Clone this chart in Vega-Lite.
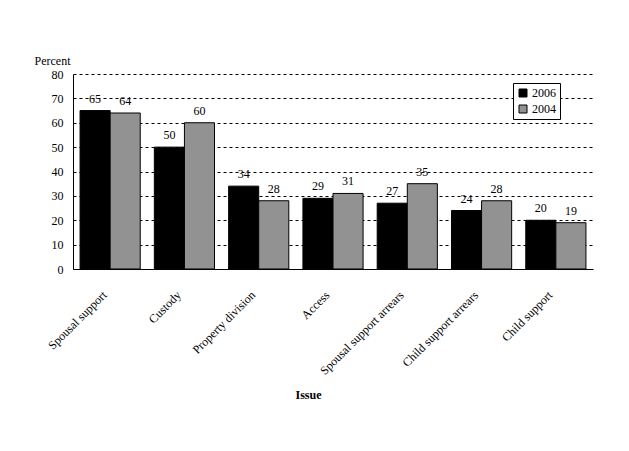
{
  "$schema": "https://vega.github.io/schema/vega-lite/v6.json",
  "width": 520,
  "height": 195,
  "autosize": {"type": "none"},
  "padding": {"left": 73, "top": 74, "right": 36, "bottom": 182},
  "background": "white",
  "config": {
    "font": "Liberation Serif",
    "view": {"stroke": null},
    "axis": {"labelFont": "Liberation Serif", "titleFont": "Liberation Serif", "labelColor": "black", "titleColor": "black"}
  },
  "data": {
    "values": [
      {"issue": "Spousal support", "year": "2006", "pct": 65},
      {"issue": "Spousal support", "year": "2004", "pct": 64},
      {"issue": "Custody", "year": "2006", "pct": 50},
      {"issue": "Custody", "year": "2004", "pct": 60},
      {"issue": "Property division", "year": "2006", "pct": 34},
      {"issue": "Property division", "year": "2004", "pct": 28},
      {"issue": "Access", "year": "2006", "pct": 29},
      {"issue": "Access", "year": "2004", "pct": 31},
      {"issue": "Spousal support arrears", "year": "2006", "pct": 27},
      {"issue": "Spousal support arrears", "year": "2004", "pct": 35},
      {"issue": "Child support arrears", "year": "2006", "pct": 24},
      {"issue": "Child support arrears", "year": "2004", "pct": 28},
      {"issue": "Child support", "year": "2006", "pct": 20},
      {"issue": "Child support", "year": "2004", "pct": 19}
    ]
  },
  "encoding": {
    "x": {
      "field": "issue",
      "type": "nominal",
      "sort": null,
      "scale": {"paddingInner": 0.19, "paddingOuter": 0.095},
      "axis": {
        "title": "Issue",
        "titleFontWeight": "bold",
        "titleFontSize": 12,
        "titleX": 235,
        "titleY": 129,
        "titleBaseline": "alphabetic",
        "labelAngle": -45,
        "labelFontSize": 12,
        "labelPadding": 20,
        "labelOffset": -9,
        "ticks": false,
        "domainColor": "black",
        "grid": false
      }
    },
    "xOffset": {"field": "year", "type": "nominal", "sort": ["2006", "2004"]},
    "y": {
      "field": "pct",
      "type": "quantitative",
      "scale": {"domain": [0, 80]},
      "axis": {
        "title": "Percent",
        "titleAngle": 0,
        "titleFontWeight": "normal",
        "titleFontSize": 12,
        "titleAlign": "center",
        "titleX": -21,
        "titleY": -10,
        "titleBaseline": "alphabetic",
        "values": [0, 10, 20, 30, 40, 50, 60, 70, 80],
        "labelFontSize": 12,
        "labelPadding": 10,
        "ticks": false,
        "domainColor": "black",
        "gridColor": "black",
        "gridDash": [3, 3],
        "gridOpacity": 1
      }
    }
  },
  "layer": [
    {
      "mark": {"type": "bar", "stroke": "black", "strokeWidth": 1},
      "encoding": {
        "color": {
          "field": "year",
          "type": "nominal",
          "scale": {"domain": ["2006", "2004"], "range": ["black", "#929292"]},
          "legend": {
            "title": null,
            "orient": "none",
            "legendX": 440,
            "legendY": 9,
            "symbolType": "square",
            "symbolSize": 64,
            "symbolStrokeColor": "black",
            "symbolStrokeWidth": 1,
            "labelFontSize": 12,
            "labelFont": "Liberation Serif",
            "labelColor": "black",
            "labelOffset": 3,
            "rowPadding": 4,
            "padding": 4,
            "strokeColor": "black",
            "fillColor": "white"
          }
        }
      }
    },
    {
      "mark": {"type": "text", "baseline": "bottom", "dy": -5, "fontSize": 12, "fill": "black"},
      "encoding": {"text": {"field": "pct", "type": "quantitative"}}
    }
  ]
}
